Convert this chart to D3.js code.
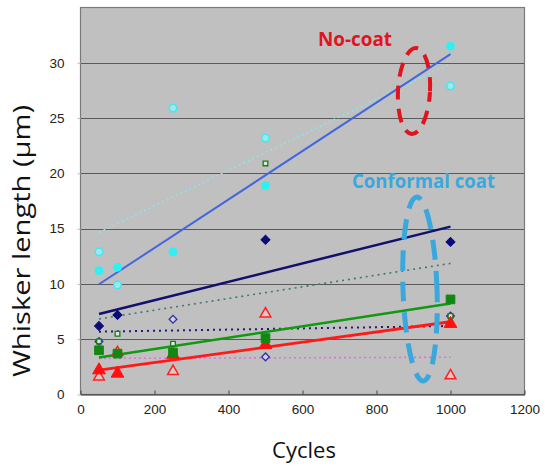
<!DOCTYPE html>
<html><head><meta charset="utf-8">
<script src="https://cdn.jsdelivr.net/npm/d3@7"></script>
<style>html,body{margin:0;padding:0;background:#fff;}svg{display:block;}</style>
</head><body>
<svg id="c" width="545" height="465"></svg>
<script>
const cycles = [50, 100, 250, 500, 1000];
const cyanFilled  = [11.2, 11.5, 12.9, 18.9, 31.5];
const cyanOpen    = [12.9, 9.9, 25.9, 23.2, 27.9];
const navyFilled  = [6.2, 7.2, null, 14.0, 13.8];
const navyOpen    = [4.8, 7.2, 6.8, 3.4, 7.1];
const greenFilled = [4.0, 3.7, 3.8, 5.1, 8.6];
const greenOpen   = [4.8, 5.5, 4.6, 20.9, 7.1];
const redFilled   = [2.2, 1.9, 3.6, 4.5, 6.4];
const redOpen     = [1.6, 3.8, 2.1, 7.3, 1.7];
const xTicks = [0, 200, 400, 600, 800, 1000, 1200];
const yTicks = [0, 5, 10, 15, 20, 25, 30];

const svg = d3.select("#c");
const L = 80.5, R = 524.5, T = 7.5, B = 394.5;
const x = d3.scaleLinear().domain([0, 1200]).range([L, R]);
const y = d3.scaleLinear().domain([0, 35]).range([B, T]);

svg.append("rect").attr("x", L).attr("y", T).attr("width", R - L).attr("height", B - T)
  .attr("fill", "#c0c0c0");
svg.append("g").selectAll("line").data(yTicks.filter(d => d > 0)).join("line")
  .attr("x1", L).attr("x2", R).attr("y1", d => Math.round(y(d)) + 0.5).attr("y2", d => Math.round(y(d)) + 0.5)
  .attr("stroke", "#5a5a5a").attr("stroke-width", 1.2);
svg.append("rect").attr("x", L).attr("y", T).attr("width", R - L).attr("height", B - T)
  .attr("fill", "none").attr("stroke", "#7a7a7a").attr("stroke-width", 1.2);

const xAxis = d3.axisBottom(x).tickValues(xTicks).tickFormat(d3.format("d")).tickSize(-4).tickPadding(10).tickSizeOuter(0);
const gx = svg.append("g").attr("transform", `translate(0,${B})`).call(xAxis);
gx.select(".domain").attr("stroke", "#333");
gx.selectAll(".tick line").attr("stroke", "#444");
gx.selectAll("text").attr("font-family", "Liberation Sans, Arial, sans-serif").attr("font-size", 13.5).attr("fill", "#222");

const yAxis = d3.axisLeft(y).tickValues(yTicks).tickFormat(d3.format("d")).tickSize(3).tickPadding(13).tickSizeOuter(0);
const gy = svg.append("g").attr("transform", `translate(${L},0)`).call(yAxis);
gy.select(".domain").remove();
gy.selectAll(".tick line").attr("stroke", "#bbb");
gy.selectAll("text").attr("font-family", "Liberation Sans, Arial, sans-serif").attr("font-size", 13.5).attr("fill", "#222");

svg.append("text").attr("x", 304).attr("y", 458).attr("text-anchor", "middle")
  .attr("font-family", "Open Sans, sans-serif").attr("font-size", 22).attr("fill", "#111").text("Cycles");
svg.append("text").attr("transform", "translate(30,241) rotate(-90)").attr("text-anchor", "middle")
  .attr("font-family", "Open Sans, sans-serif").attr("font-size", 23).attr("fill", "#111")
  .attr("textLength", 272).attr("lengthAdjust", "spacingAndGlyphs").text("Whisker length (μm)");

function fit(vals) {
  const pts = cycles.map((c, i) => [c, vals[i]]).filter(p => p[1] != null);
  const mx = d3.mean(pts, p => p[0]), my = d3.mean(pts, p => p[1]);
  const sxy = d3.sum(pts, p => (p[0] - mx) * (p[1] - my));
  const sxx = d3.sum(pts, p => (p[0] - mx) ** 2);
  const b = sxy / sxx, a = my - b * mx;
  const x0 = d3.min(pts, p => p[0]), x1 = d3.max(pts, p => p[0]);
  return [[x0, a + b * x0], [x1, a + b * x1]];
}
const line = d3.line().x(d => x(d[0])).y(d => y(d[1]));
const trends = [
  {v: cyanOpen,    c: "#8fe3e8", w: 1.6, dash: "2,3"},
  {v: greenOpen,   c: "#3a7a72", w: 1.6, dash: "2,4"},
  {v: navyOpen,    c: "#1c1c70", w: 2, dash: "2,4"},
  {v: redOpen,     c: "#e070e0", w: 1.6, dash: "2,3"},
  {v: cyanFilled,  c: "#4466dd", w: 2, dash: null},
  {v: navyFilled,  c: "#10106e", w: 2.5, dash: null},
  {v: greenFilled, c: "#119911", w: 2.5, dash: null},
  {v: redFilled,   c: "#ff1a1a", w: 2.8, dash: null},
];
trends.forEach(t => {
  svg.append("path").attr("d", line(fit(t.v))).attr("fill", "none")
    .attr("stroke", t.c).attr("stroke-width", t.w).attr("stroke-dasharray", t.dash);
});

function pts(vals) { return cycles.map((c, i) => [c, vals[i]]).filter(p => p[1] != null); }
function draw(vals, type, size, fill, stroke, sw, rot) {
  svg.append("g").selectAll("path").data(pts(vals)).join("path")
    .attr("transform", d => `translate(${x(d[0])},${y(d[1])}) rotate(${rot || 0})`)
    .attr("d", d3.symbol().type(type).size(size)()).attr("fill", fill).attr("stroke", stroke).attr("stroke-width", sw);
}
draw(redOpen, d3.symbolTriangle, 50, "#d8c8c8", "#ff2020", 1.5);
draw(navyOpen, d3.symbolSquare, 30, "#d0d0e0", "#3030a0", 1.3, 45);
draw(greenOpen, d3.symbolSquare, 22, "#d8e8d8", "#1a7a1a", 1.3);
draw(cyanOpen, d3.symbolCircle, 45, "#9ee8ec", "#40e8f0", 1.5);
draw(redFilled, d3.symbolTriangle, 70, "#ff1010", "#ff1010", 1);
draw(greenFilled, d3.symbolSquare, 75, "#118811", "#118811", 1);
draw(navyFilled, d3.symbolSquare, 40, "#0c0c78", "#0c0c78", 1, 45);
draw(cyanFilled, d3.symbolCircle, 50, "#30f0f4", "#30f0f4", 1);

svg.append("text").attr("x", 318).attr("y", 46).attr("font-family", "Open Sans, sans-serif")
  .attr("font-weight", "bold").attr("font-size", 20).attr("fill", "#e0141e")
  .attr("textLength", 74).attr("lengthAdjust", "spacingAndGlyphs").text("No-coat");
svg.append("ellipse").attr("cx", 414).attr("cy", 91).attr("rx", 16).attr("ry", 43)
  .attr("transform", "rotate(3,414,91)").attr("fill", "none").attr("stroke", "#e0141e")
  .attr("stroke-width", 4).attr("stroke-dasharray", "14,9").attr("stroke-dashoffset", 4);
svg.append("text").attr("x", 352).attr("y", 188).attr("font-family", "Open Sans, sans-serif")
  .attr("font-weight", "bold").attr("font-size", 20).attr("fill", "#3aa8dc")
  .attr("textLength", 143).attr("lengthAdjust", "spacingAndGlyphs").text("Conformal coat");
svg.append("ellipse").attr("cx", 420).attr("cy", 289).attr("rx", 17).attr("ry", 92)
  .attr("transform", "rotate(-2,420,289)").attr("fill", "none").attr("stroke", "#3aa8dc")
  .attr("stroke-width", 5).attr("stroke-dasharray", "20,11").attr("stroke-dashoffset", 6);
</script>
</body></html>
